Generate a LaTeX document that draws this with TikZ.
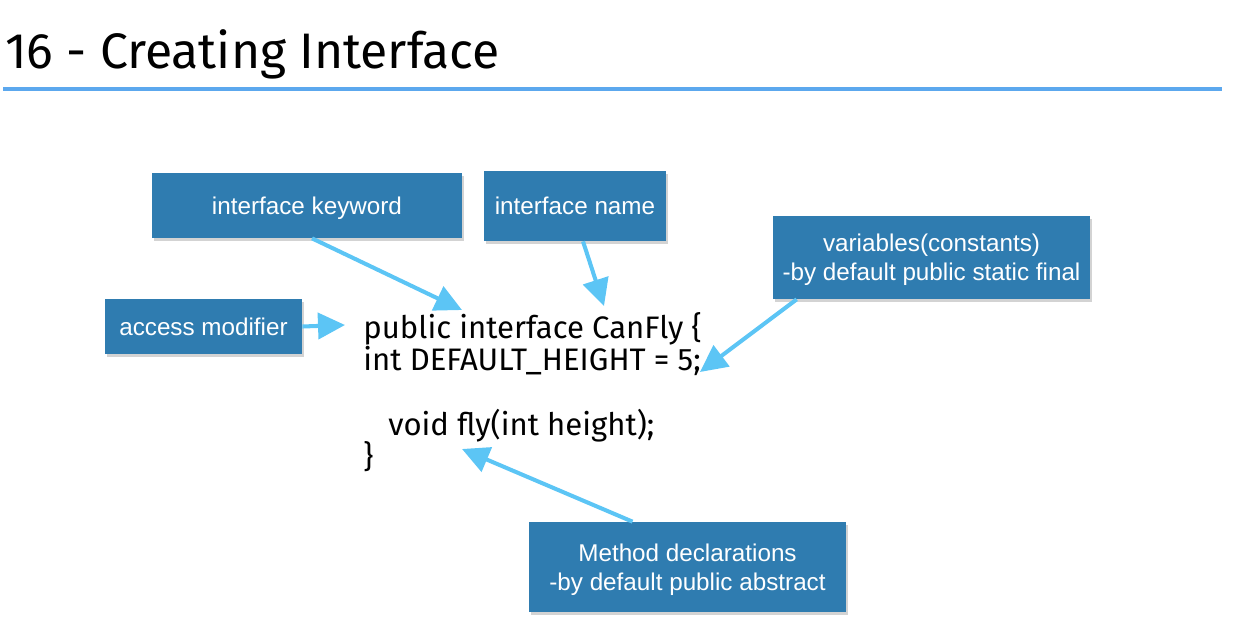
\documentclass[tikz,border=0pt]{standalone}
\usepackage{fontspec}
\setmainfont{Fira Sans}
\newfontfamily\boxfont{Liberation Sans}
\usetikzlibrary{arrows.meta,positioning,shadows}

\definecolor{boxblue}{RGB}{47,124,176}
\definecolor{arrowcyan}{RGB}{92,197,245}
\definecolor{rulecol}{RGB}{92,168,238}

\begin{document}
\begin{tikzpicture}[x=0.02cm, y=-0.02cm,
        note/.style={fill=boxblue, draw=none, align=center, text=white,
                     font=\boxfont\fontsize{13.8}{16.5}\selectfont,
                     inner sep=0pt, text depth=0pt,
                     drop shadow={shadow xshift=1.2pt, shadow yshift=-1.5pt, opacity=0.35}},
        codeline/.style={anchor=base west, inner sep=0pt,
                         font=\fontsize{17.7}{20}\selectfont},
        arrow/.style={-{Triangle[length=5.4mm, width=5.2mm]}, line width=2.3pt, arrowcyan}
    ]
        \useasboundingbox (0,0) rectangle (1248,622);

        % title
        \node[anchor=base west, inner sep=0pt, font=\fontsize{28.4}{32}\selectfont] (title) at (5,68) {16 - Creating Interface};
        \draw[rulecol, line width=2.2pt] (3,89) -- (1222,89);

        % code
        \node[codeline] (l1) at (363,338) {public interface CanFly \{};
        \node[codeline] (l2) at (363,370) {int DEFAULT\_HEIGHT = 5;};
        \node[codeline] (l3) at (388,435) {void fly(int height);};
        \node[codeline] (l4) at (363,467) {\}};

        % notes
        \node[note, minimum width=6.2cm, minimum height=1.3cm] (kw) at (307,205.5) {interface keyword};
        \node[note, minimum width=3.64cm, minimum height=1.4cm] (nm) at (575,206) {interface name};
        \node[note, minimum width=6.34cm, minimum height=1.66cm] (vars) at (931.5,257.5) {variables(constants)\\-by default public static final};
        \node[note, minimum width=3.94cm, minimum height=1.1cm] (acc) at (203.5,326.5) {access modifier};
        \node[note, minimum width=6.34cm, minimum height=1.8cm] (meth) at (687.5,567) {Method declarations\\-by default public abstract};

        \coordinate (kwend) at (462,310);
        \coordinate (nmend) at (604,306);
        \coordinate (varend) at (700,372);
        \coordinate (accend) at (345,325);
        \coordinate (methend) at (462,449);

        \draw[arrow] ([xshift=0.1cm]kw.south) -- (kwend);
        \draw[arrow] ([xshift=0.16cm]nm.south) -- (nmend);
        \draw[arrow] ([xshift=0.48cm]vars.south west) -- (varend);
        \draw[arrow] (acc.east) -- (accend);
        \draw[arrow] ([xshift=-1.1cm]meth.north) -- (methend);
    \end{tikzpicture}
\end{document}
